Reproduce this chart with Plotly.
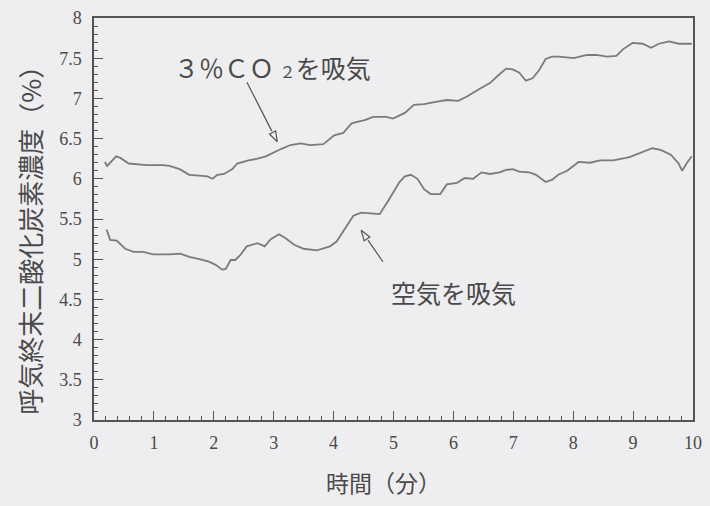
import plotly.graph_objects as go

# End-tidal CO2 while breathing 3% CO2 vs. room air
t_co2 = [0.18, 0.22, 0.37, 0.44, 0.58, 0.71, 0.88, 1.15, 1.26, 1.43, 1.59, 1.76, 1.89, 1.98,
         2.06, 2.17, 2.31, 2.39, 2.58, 2.73, 2.87, 3.12, 3.28, 3.45, 3.61, 3.83, 4.01, 4.16,
         4.30, 4.41, 4.52, 4.66, 4.88, 4.99, 5.10, 5.19, 5.34, 5.51, 5.73, 5.89, 6.08, 6.22,
         6.44, 6.61, 6.77, 6.88, 6.99, 7.10, 7.21, 7.32, 7.43, 7.54, 7.65, 7.76, 8.01, 8.23,
         8.39, 8.56, 8.72, 8.83, 8.99, 9.16, 9.30, 9.43, 9.60, 9.76, 9.98]
co2_3pct = [6.21, 6.16, 6.28, 6.26, 6.19, 6.18, 6.17, 6.17, 6.16, 6.12, 6.05, 6.04, 6.03, 6.00,
            6.05, 6.06, 6.12, 6.19, 6.23, 6.25, 6.28, 6.37, 6.42, 6.44, 6.42, 6.43, 6.54, 6.57,
            6.69, 6.71, 6.73, 6.77, 6.77, 6.75, 6.79, 6.82, 6.92, 6.93, 6.96, 6.98, 6.97, 7.02,
            7.12, 7.19, 7.30, 7.37, 7.36, 7.32, 7.22, 7.25, 7.35, 7.49, 7.52, 7.52, 7.50, 7.54,
            7.54, 7.52, 7.53, 7.61, 7.69, 7.68, 7.63, 7.68, 7.71, 7.68, 7.68]

t_air = [0.21, 0.27, 0.38, 0.52, 0.66, 0.82, 0.99, 1.26, 1.44, 1.59, 1.76, 1.92, 2.03, 2.14,
         2.20, 2.28, 2.36, 2.44, 2.55, 2.64, 2.73, 2.85, 2.95, 3.09, 3.20, 3.34, 3.50, 3.72,
         3.94, 4.05, 4.22, 4.33, 4.46, 4.77, 4.93, 5.10, 5.19, 5.29, 5.40, 5.51, 5.62, 5.78,
         5.89, 6.06, 6.19, 6.33, 6.47, 6.61, 6.77, 6.88, 6.99, 7.10, 7.27, 7.38, 7.54, 7.65,
         7.75, 7.90, 8.09, 8.28, 8.45, 8.67, 8.94, 9.16, 9.32, 9.46, 9.63, 9.76, 9.82, 9.90, 9.98]
co2_air = [5.37, 5.24, 5.23, 5.13, 5.09, 5.09, 5.06, 5.06, 5.07, 5.03, 5.00, 4.97, 4.93, 4.87,
           4.88, 4.99, 4.99, 5.05, 5.16, 5.18, 5.20, 5.16, 5.25, 5.31, 5.26, 5.18, 5.13, 5.11,
           5.16, 5.22, 5.42, 5.54, 5.58, 5.56, 5.75, 5.96, 6.03, 6.05, 6.00, 5.87, 5.81, 5.81,
           5.93, 5.95, 6.01, 6.00, 6.08, 6.06, 6.08, 6.11, 6.12, 6.09, 6.08, 6.05, 5.96, 5.99,
           6.05, 6.10, 6.21, 6.20, 6.23, 6.23, 6.27, 6.33, 6.38, 6.36, 6.30, 6.19, 6.10, 6.20, 6.28]

x_ticks = list(range(0, 11))
y_ticks = [3, 3.5, 4, 4.5, 5, 5.5, 6, 6.5, 7, 7.5, 8]

# callouts: (tail x, tail y) -> (tip x, tip y), head angle
arrow_co2 = dict(tail=(2.54, 7.22), tip=(3.06, 6.46), angle=153)
arrow_air = dict(tail=(4.84, 4.95), tip=(4.46, 5.36), angle=-34)

LINE = "#7b7b7b"
AXIS = "#555555"
TEXT = "#4a4a4a"
BG = "#eeedef"
JP = "Noto Sans CJK JP"
SERIF = "Liberation Serif"

fig = go.Figure()
fig.add_trace(go.Scatter(x=t_co2, y=co2_3pct, mode="lines",
                         line=dict(color=LINE, width=1.8), hoverinfo="skip"))
fig.add_trace(go.Scatter(x=t_air, y=co2_air, mode="lines",
                         line=dict(color=LINE, width=1.8), hoverinfo="skip"))

for a in (arrow_co2, arrow_air):
    fig.add_annotation(x=a["tip"][0], y=a["tip"][1], ax=a["tail"][0], ay=a["tail"][1],
                       xref="x", yref="y", axref="x", ayref="y", text="",
                       showarrow=True, arrowhead=0, arrowwidth=1.2, arrowcolor="#555",
                       standoff=12)
    fig.add_trace(go.Scatter(x=[a["tip"][0]], y=[a["tip"][1]], mode="markers",
                             marker=dict(symbol="arrow-open", size=11, angle=a["angle"],
                                         color="#555", line=dict(width=1.2, color="#555")),
                             hoverinfo="skip"))

fig.add_annotation(x=(173 - 94) / 608, y=(420 - 63) / 406, xref="paper", yref="paper",
                   xanchor="left", yanchor="middle", showarrow=False,
                   text="３％ＣＯ <span style='font-size:16px'>２</span>を吸気",
                   font=dict(family=JP, size=25, color=TEXT))
fig.add_annotation(x=(393 - 94) / 608, y=(420 - 291) / 406, xref="paper", yref="paper",
                   xanchor="left", yanchor="middle", showarrow=False,
                   text="空気を吸気", font=dict(family=JP, size=25, color=TEXT))

# axis titles
fig.add_annotation(x=(29 - 94) / 608, y=(420 - 232) / 406, xref="paper", yref="paper",
                   xanchor="center", yanchor="middle", showarrow=False, textangle=-90,
                   text="呼気終末二酸化炭素濃度（%）", font=dict(family=JP, size=26, color=TEXT))
fig.add_annotation(x=(388 - 94) / 608, y=(420 - 483) / 406, xref="paper", yref="paper",
                   xanchor="center", yanchor="middle", showarrow=False,
                   text="時間（分）", font=dict(family=JP, size=23, color=TEXT))

axis_common = dict(showline=True, linecolor=AXIS, linewidth=1.5, mirror=True,
                   showgrid=False, zeroline=False, ticks="inside", tickcolor=AXIS,
                   tickwidth=1.2, ticklen=9,
                   tickfont=dict(family=SERIF, size=18, color=TEXT))

fig.update_xaxes(range=[0, 10], tickvals=x_ticks, ticktext=[str(v) for v in x_ticks],
                 ticklabelstandoff=6,
                 minor=dict(dtick=0.2, ticks="inside", ticklen=4, tickcolor=AXIS, tickwidth=1),
                 **axis_common)
fig.update_yaxes(range=[3, 8], tickvals=y_ticks,
                 ticktext=[("%g" % v) for v in y_ticks],
                 ticklabelstandoff=7,
                 minor=dict(dtick=0.1, ticks="inside", ticklen=4, tickcolor=AXIS, tickwidth=1),
                 **axis_common)

fig.update_layout(width=710, height=506, showlegend=False,
                  margin=dict(l=94, r=8, t=14, b=86),
                  paper_bgcolor=BG, plot_bgcolor=BG)

fig.write_html("out.html")
